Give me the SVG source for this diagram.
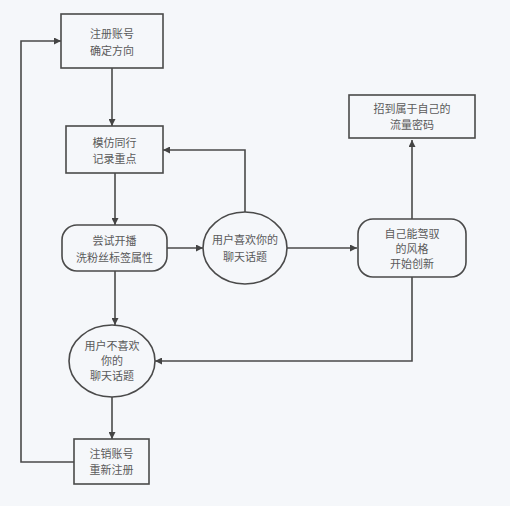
<svg xmlns="http://www.w3.org/2000/svg" width="510" height="506" viewBox="0 0 510 506">
<defs>
<marker id="arr" viewBox="0 0 10 10" refX="10" refY="5" markerWidth="7" markerHeight="7" markerUnits="userSpaceOnUse" orient="auto">
<path d="M0,0 L10,5 L0,10 z" fill="#444"/>
</marker>
<style>
.n{fill:#f5f7fa;stroke:#4a4a4a;stroke-width:1.6}
.t{font-family:"Noto Sans CJK SC","Liberation Sans",sans-serif;font-size:11px;fill:#5a5a5a;text-anchor:middle}
.c{fill:none;stroke:#4a4a4a;stroke-width:1.6;marker-end:url(#arr)}
</style>
</defs>
<rect width="510" height="506" fill="#f5f7fa"/>
<g id="connectors">
<path class="c" d="M112,68 V126"/>
<path class="c" d="M115,173 V225"/>
<path class="c" d="M167,248 H203"/>
<path class="c" d="M245,212 V150 H163"/>
<path class="c" d="M287,248 H357"/>
<path class="c" d="M412,219 V140"/>
<path class="c" d="M412,277 V361 H155"/>
<path class="c" d="M115,271 V325"/>
<path class="c" d="M112,397 V439"/>
<path class="c" d="M74,462 H21 V41 H61"/>
</g>
<g id="n1">
<rect class="n" x="61" y="14" width="102" height="54"/>
<text class="t" x="112" y="38">注册账号</text>
<text class="t" x="112" y="55">确定方向</text>
</g>
<g id="n2">
<rect class="n" x="66" y="126" width="97" height="47"/>
<text class="t" x="114.5" y="147">模仿同行</text>
<text class="t" x="114.5" y="163">记录重点</text>
</g>
<g id="n3">
<rect class="n" x="62" y="225" width="105" height="46" rx="15" ry="15"/>
<text class="t" x="114.5" y="245">尝试开播</text>
<text class="t" x="114.5" y="262">洗粉丝标签属性</text>
</g>
<g id="n4">
<ellipse class="n" cx="245" cy="248" rx="42" ry="36"/>
<text class="t" x="245" y="244">用户喜欢你的</text>
<text class="t" x="245" y="261">聊天话题</text>
</g>
<g id="n5">
<rect class="n" x="358" y="219" width="108" height="58" rx="15" ry="15"/>
<text class="t" x="412" y="238">自己能驾驭</text>
<text class="t" x="412" y="253">的风格</text>
<text class="t" x="412" y="268">开始创新</text>
</g>
<g id="n6">
<rect class="n" x="349" y="95" width="126" height="43"/>
<text class="t" x="412" y="113">招到属于自己的</text>
<text class="t" x="412" y="128.5">流量密码</text>
</g>
<g id="n7">
<ellipse class="n" cx="112" cy="361" rx="43" ry="36"/>
<text class="t" x="112" y="350">用户不喜欢</text>
<text class="t" x="112" y="365">你的</text>
<text class="t" x="112" y="380">聊天话题</text>
</g>
<g id="n8">
<rect class="n" x="74" y="439" width="75" height="45"/>
<text class="t" x="111.5" y="458">注销账号</text>
<text class="t" x="111.5" y="474">重新注册</text>
</g>
</svg>
